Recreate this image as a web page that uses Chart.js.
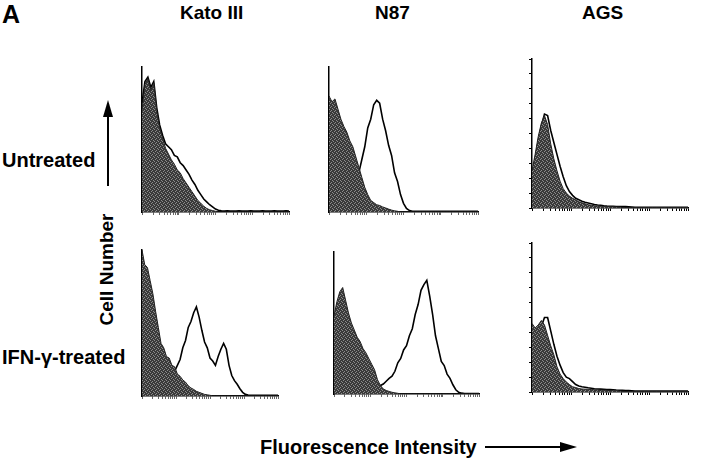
<!DOCTYPE html>
<html>
<head>
<meta charset="utf-8">
<script src="https://cdn.jsdelivr.net/npm/chart.js@4.4.0/dist/chart.umd.min.js"></script>
<style>
    body { margin: 0; background: #fff; }
    #page { position: relative; width: 720px; height: 460px; overflow: hidden; font-family: "Liberation Sans", Arial, sans-serif; font-weight: bold; color: #000; }
    .lbl { position: absolute; white-space: nowrap; line-height: 1; }
    canvas { position: absolute; }
    svg { position: absolute; left: 0; top: 0; }
</style>
</head>
<body>
<div id="page">
    <div class="lbl" style="left:2px; top:2px; font-size:25px;">A</div>
    <div class="lbl" style="left:180px; top:3px; font-size:19px;">Kato III</div>
    <div class="lbl" style="left:375px; top:3px; font-size:19px;">N87</div>
    <div class="lbl" style="left:582px; top:3px; font-size:19px;">AGS</div>
    <div class="lbl" style="left:2px; top:150px; font-size:20px;">Untreated</div>
    <div class="lbl" style="left:2px; top:347px; font-size:20px;">IFN-γ-treated</div>
    <div class="lbl" style="left:36px; top:260px; width:140px; height:19px; font-size:19px; text-align:center; transform:rotate(-90deg);">Cell Number</div>
    <div class="lbl" style="left:260px; top:437px; font-size:20px;">Fluorescence Intensity</div>
    <svg width="720" height="460">
        <line x1="108" y1="186" x2="108" y2="112" stroke="#000" stroke-width="2"/>
        <polygon points="108,100 103,117 113,117" fill="#000"/>
        <line x1="485" y1="447" x2="565" y2="447" stroke="#000" stroke-width="2"/>
        <polygon points="577,447 560,442 560,452" fill="#000"/>
    </svg>
    <canvas id="p1"></canvas>
    <canvas id="p2"></canvas>
    <canvas id="p3"></canvas>
    <canvas id="p4"></canvas>
    <canvas id="p5"></canvas>
    <canvas id="p6"></canvas>
</div>
<script>
// Channel positions (percent of the fluorescence axis)
const channels = [0, 2, 4, 6, 8, 10, 12, 14, 16, 18, 20, 22, 24, 26, 28, 30, 32, 34, 36, 38, 40,
    42, 44, 46, 48, 50, 52, 54, 56, 58, 60, 62, 64, 66, 68, 70, 72, 74, 76, 78, 80,
    82, 84, 86, 88, 90, 92, 94, 96, 98, 100];

// Untreated - control (filled) and stained (open) histograms
const katoUntreatedCtrl = [70, 88, 92, 84, 89, 70, 58, 51, 44, 40, 36, 33, 29, 27, 23, 20, 17, 14, 11, 8, 6,
    4, 2.5, 1.5, 1, 0.5, 0, 0, 0, 0, 0, 0, 0, 0, 0, 0, 0, 0, 0, 0, 0,
    0, 0, 0, 0, 0, 0, 0, 0, 0, 0];
const katoUntreatedStain = [75, 90, 93, 86, 90, 72, 60, 53, 47, 45, 43, 39, 38, 34, 32, 29, 26, 22, 19, 15, 12,
    9, 7, 5, 3.5, 2, 1.2, 0.8, 0.6, 0.8, 0.6, 0.7, 0.6, 0.8, 0.6, 0.7, 0.6, 0.8, 0.6, 0.7, 0.6,
    0.8, 0.6, 0.7, 0.6, 0.8, 0.6, 0.7, 0.6, 0.8, 0.6];
const n87UntreatedCtrl = [80, 76, 78, 71, 64, 59, 55, 49, 45, 38, 31, 24, 17, 12, 8, 6.5, 5, 4.5, 3.5, 2.8, 2,
    1.3, 0.8, 0.5, 0, 0, 0, 0, 0, 0, 0, 0, 0, 0, 0, 0, 0, 0, 0, 0, 0,
    0, 0, 0, 0, 0, 0, 0, 0, 0, 0];
const n87UntreatedStain = [3, 4, 4.5, 6, 6.5, 9, 10, 14, 16, 22, 27, 36, 45, 58, 64, 74, 77, 75, 64, 56, 46,
    39, 27, 21, 12, 6, 2.5, 1, 0.5, 0.5, 0.5, 0.5, 0.5, 0.5, 0.5, 0.5, 0.5, 0.5, 0.5, 0.5, 0.5,
    0.5, 0.5, 0.5, 0.5, 0.5, 0.5, 0.5, 0.5, 0.5, 0.5];
const agsUntreatedCtrl = [25, 36, 48, 57, 62, 56, 43, 33, 25, 18, 13, 10, 8, 6.5, 5.5, 4.2, 3.5, 2.8, 2.2, 1.8, 1.5,
    1.3, 1.2, 1.1, 1, 0.9, 0.8, 0.7, 0.6, 0.4, 0.2, 0.2, 0.2, 0.2, 0.2, 0.2, 0.2, 0.2, 0.2, 0.2, 0.2,
    0.2, 0.2, 0.2, 0.2, 0.2, 0.2, 0.2, 0.2, 0.2, 0.2];
const agsUntreatedStain = [22, 32, 45, 55, 63, 62, 52, 44, 36, 28, 21, 15, 11, 8.5, 6.5, 5.5, 4.5, 3.8, 3.3, 2.8, 2.3,
    2, 1.8, 1.5, 1.3, 1.2, 1.1, 1, 1, 0.9, 0.9, 0.8, 0.7, 0.5, 0.5, 0.5, 0.5, 0.5, 0.5, 0.5, 0.5,
    0.5, 0.5, 0.5, 0.5, 0.5, 0.5, 0.5, 0.5, 0.5, 0.5];

// IFN-gamma treated
const katoIfnCtrl = [100, 90, 88, 79, 70, 58, 47, 36, 33, 27, 26, 21, 20, 15, 13.5, 11, 9.5, 7, 5.5, 4.5, 3.2,
    2.5, 1.8, 1.1, 0.8, 0.5, 0, 0, 0, 0, 0, 0, 0, 0, 0, 0, 0, 0, 0, 0, 0,
    0, 0, 0, 0, 0, 0, 0, 0, 0, 0];
const katoIfnStain = [0.5, 1, 1.4, 1.8, 2.2, 2.7, 3.5, 5, 7, 9, 11, 13, 17, 21, 25, 33, 38, 47, 51, 57, 61,
    54, 45, 37, 33, 26, 24, 21, 27, 32, 36, 32, 21, 14, 10.5, 8, 5, 2.5, 1.1, 0.6, 0.4,
    0.4, 0.4, 0.4, 0.4, 0.4, 0.4, 0.4, 0.4, 0.4, 0.4];
const n87IfnCtrl = [55, 65, 72, 75, 66, 57, 50, 45, 40, 37, 32, 29, 25, 21, 17, 10, 6, 3.5, 2.5, 1.8, 1.2,
    0.8, 0.5, 0, 0, 0, 0, 0, 0, 0, 0, 0, 0, 0, 0, 0, 0, 0, 0, 0, 0,
    0, 0, 0, 0, 0, 0, 0, 0, 0, 0];
const n87IfnStain = [3, 3, 2.5, 2, 2, 2, 2.2, 2.5, 2.8, 3, 3, 3.3, 3.8, 4, 4.5, 5, 6, 7, 9, 11, 12.5,
    16, 22, 25, 31, 34, 41, 46, 56, 63, 73, 77, 80, 69, 56, 41, 32, 23, 20, 14, 11,
    6.5, 3, 1.2, 0.6, 0.4, 0.4, 0.4, 0.4, 0.4, 0.4];
const agsIfnCtrl = [46, 43, 45, 48, 45, 38, 31, 25, 17, 12, 9, 6.7, 5, 3.5, 3, 2.3, 2, 1.9, 1.8, 1.7, 1.5,
    1.4, 1.3, 1.2, 1.1, 1, 0.9, 0.8, 0.7, 0.5, 0.3, 0.3, 0.3, 0.3, 0.3, 0.3, 0.3, 0.3, 0.3, 0.3, 0.3,
    0.3, 0.3, 0.3, 0.3, 0.3, 0.3, 0.3, 0.3, 0.3, 0.3];
const agsIfnStain = [5, 18, 33, 44, 50, 50, 41, 32, 24, 18, 13, 10, 9, 7, 5, 4, 3.5, 3.2, 2.8, 2.5, 2.2,
    2, 1.9, 1.8, 1.7, 1.6, 1.5, 1.3, 1.2, 1.1, 1, 0.9, 0.8, 0.6, 0.6, 0.6, 0.6, 0.6, 0.6, 0.6, 0.6,
    0.6, 0.6, 0.6, 0.6, 0.6, 0.6, 0.6, 0.6, 0.6, 0.6];

// Four-decade log tick marks along the fluorescence axis
const logTicks = [];
for (let d = 0; d < 4; d++) {
    for (let k = 1; k < 10; k++) logTicks.push(25 * d + 25 * Math.log10(k));
}
logTicks.push(100);

// Dotted dark grey fill like the printed histograms
function stipple() {
    const c = document.createElement('canvas');
    c.width = 4; c.height = 4;
    const g = c.getContext('2d');
    g.fillStyle = '#3a3a3a';
    g.fillRect(0, 0, 4, 4);
    g.fillStyle = '#8c8c8c';
    g.fillRect(0, 0, 1, 1);
    g.fillRect(2, 1, 1, 1);
    g.fillRect(1, 3, 1, 1);
    g.fillRect(3, 2, 1, 1);
    return g.createPattern(c, 'repeat');
}
const fillPattern = stipple();

function toPoints(values) {
    return channels.map((x, i) => ({ x: x, y: values[i] }));
}

// box = chart area in page pixels
function makePanel(id, box, ctrl, stain, yTicks) {
    const M = 8;
    const cv = document.getElementById(id);
    cv.width = box.w + 2 * M;
    cv.height = box.h + 2 * M;
    cv.style.left = (box.x - M) + 'px';
    cv.style.top = (box.y - M) + 'px';

    return new Chart(cv.getContext('2d'), {
        type: 'line',
        data: {
            datasets: [
                {
                    data: toPoints(ctrl),
                    fill: 'origin',
                    backgroundColor: fillPattern,
                    borderColor: '#222',
                    borderWidth: 1,
                    pointRadius: 0,
                    tension: 0,
                },
                {
                    data: toPoints(stain),
                    fill: false,
                    borderColor: '#000',
                    borderWidth: 1.6,
                    pointRadius: 0,
                    tension: 0,
                },
            ],
        },
        options: {
            responsive: false,
            animation: false,
            devicePixelRatio: 1,
            layout: {
                padding: { left: M - (yTicks ? 3 : 0), top: M, right: M, bottom: M - 3 },
            },
            plugins: {
                legend: { display: false },
                tooltip: { enabled: false },
            },
            scales: {
                x: {
                    type: 'linear',
                    min: 0,
                    max: 100,
                    afterBuildTicks: (scale) => {
                        scale.ticks = logTicks.map((v) => ({ value: v }));
                    },
                    ticks: { display: false },
                    grid: { display: true, drawOnChartArea: false, tickLength: 3, color: yTicks ? '#000' : '#666', lineWidth: 1 },
                    border: { display: true, color: '#000', width: 1.5 },
                },
                y: {
                    min: 0,
                    max: 100,
                    ticks: { display: false, stepSize: 10 },
                    grid: { display: yTicks, drawOnChartArea: false, tickLength: 3, color: '#000', lineWidth: 1 },
                    border: { display: true, color: '#000', width: 1.5 },
                },
            },
        },
    });
}

makePanel('p1', { x: 139, y: 67, w: 150, h: 145 }, katoUntreatedCtrl, katoUntreatedStain, false);
makePanel('p2', { x: 326, y: 67, w: 152, h: 145 }, n87UntreatedCtrl, n87UntreatedStain, false);
makePanel('p3', { x: 532, y: 59, w: 156, h: 149 }, agsUntreatedCtrl, agsUntreatedStain, true);
makePanel('p4', { x: 139, y: 250, w: 139, h: 146 }, katoIfnCtrl, katoIfnStain, false);
makePanel('p5', { x: 331, y: 252, w: 148, h: 142 }, n87IfnCtrl, n87IfnStain, false);
makePanel('p6', { x: 532, y: 243, w: 156, h: 149 }, agsIfnCtrl, agsIfnStain, true);
</script>
</body>
</html>
